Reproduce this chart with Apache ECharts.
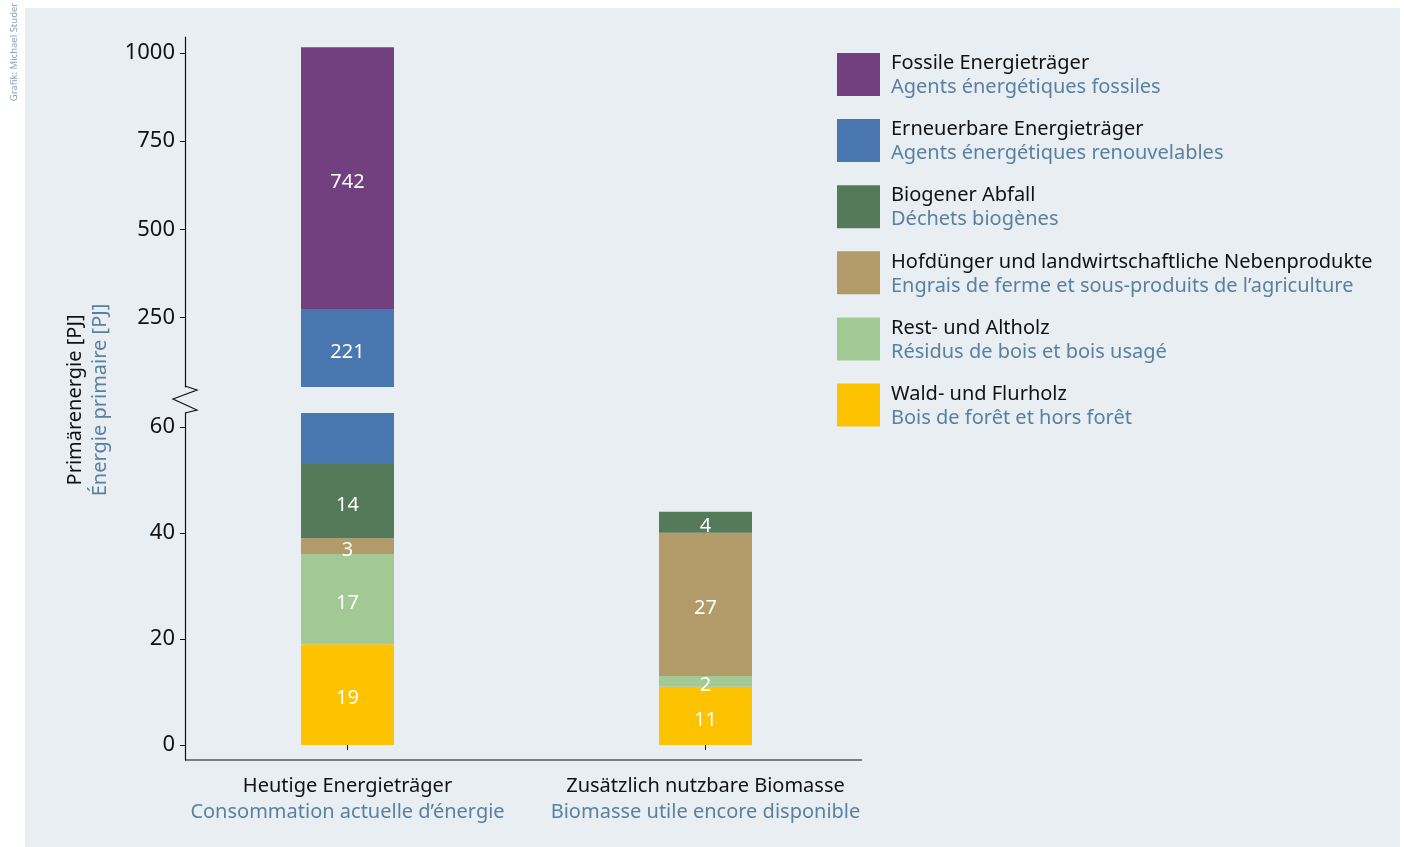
<!DOCTYPE html>
<html>
<head>
<meta charset="utf-8">
<script src="https://cdn.jsdelivr.net/npm/echarts@6/dist/echarts.min.js"></script>
<style>
  html, body { margin: 0; padding: 0; background: #fff; }
  #chart { width: 1404px; height: 847px; }
</style>
</head>
<body>
<div id="chart"></div>
<script>
// categories (German / French)
const categories = ['Heutige Energieträger', 'Zusätzlich nutzbare Biomasse'];
const categoriesFr = ['Consommation actuelle d’énergie', 'Biomasse utile encore disponible'];

// legend order, top to bottom
const seriesNames = [
  'Fossile Energieträger',
  'Erneuerbare Energieträger',
  'Biogener Abfall',
  'Hofdünger und landwirtschaftliche Nebenprodukte',
  'Rest- und Altholz',
  'Wald- und Flurholz'
];
const seriesNamesFr = [
  'Agents énergétiques fossiles',
  'Agents énergétiques renouvelables',
  'Déchets biogènes',
  'Engrais de ferme et sous-produits de l’agriculture',
  'Résidus de bois et bois usagé',
  'Bois de forêt et hors forêt'
];

// values in PJ
const waldHolz = [19, 11];
const restHolz = [17, 2];
const hofduenger = [3, 27];
const biogenAbfall = [14, 4];
const erneuerbar = [221, null];
const fossil = [742, null];

const lowerTicks = [0, 20, 40, 60];
const upperTicks = [250, 500, 750, 1000];

const colors = {
  fossil: '#723f7f',
  erneuerbar: '#4a77b0',
  biogen: '#557a5a',
  hof: '#b39b69',
  rest: '#a3c994',
  wald: '#fdc300'
};

const FONT = '"Noto Sans", sans-serif';
const BLUEGREY = '#5a80a0';
const INK = '#111';
const FS = 20;

const frByName = {};
seriesNames.forEach((n, i) => { frByName[n] = seriesNamesFr[i]; });

// sum of everything below the blue block on the left bar: where the upper panel starts
const lowerSum = waldHolz[0] + restHolz[0] + hofduenger[0] + biogenAbfall[0];

const chart = echarts.init(document.getElementById('chart'));

const barLabel = {
  show: true,
  position: 'inside',
  offset: [0, 4],
  color: '#fff',
  fontSize: FS,
  fontFamily: FONT,
  formatter: (p) => (p.value == null ? '' : String(p.value))
};

function lowerBar(name, data, color, label = true) {
  return {
    name,
    type: 'bar',
    xAxisIndex: 0,
    yAxisIndex: 0,
    stack: 'lower',
    barWidth: 93,
    clip: true,
    data,
    itemStyle: { color },
    label: label ? barLabel : { show: false }
  };
}

function upperBar(name, data, color) {
  return {
    name,
    type: 'bar',
    xAxisIndex: 1,
    yAxisIndex: 1,
    stack: 'upper',
    barWidth: 93,
    clip: true,
    data,
    itemStyle: { color },
    label: barLabel
  };
}

const valueAxisBase = {
  type: 'value',
  position: 'left',
  offset: -16.5,
  splitLine: { show: false },
  axisLine: { show: true, lineStyle: { color: INK, width: 1.2 } },
  axisTick: { show: true, length: 5, lineStyle: { color: INK } },
  axisLabel: { color: INK, fontSize: 22, fontFamily: FONT, margin: 10, formatter: (v) => String(v) }
};

const option = {
  backgroundColor: '#fff',
  animation: false,
  textStyle: { fontFamily: FONT },
  grid: [
    { left: 168.5, right: 519.5, top: 413, bottom: 87 },
    { left: 168.5, right: 519.5, top: 37, bottom: 460 }
  ],
  xAxis: [
    {
      type: 'category',
      gridIndex: 0,
      data: categories,
      axisLine: { show: false },
      axisTick: { show: true, alignWithLabel: true, length: 5, lineStyle: { color: INK } },
      axisLabel: {
        interval: 0,
        margin: 13,
        formatter: (v, i) => `{de|${v}}\n{fr|${categoriesFr[i]}}`,
        rich: {
          de: { fontSize: FS, color: INK, lineHeight: 26, fontFamily: FONT },
          fr: { fontSize: FS, color: BLUEGREY, lineHeight: 26, fontFamily: FONT }
        }
      }
    },
    { type: 'category', gridIndex: 1, data: categories, show: false }
  ],
  yAxis: [
    {
      ...valueAxisBase,
      gridIndex: 0,
      min: -2.83,
      max: 62.6,
      axisTick: { ...valueAxisBase.axisTick, customValues: lowerTicks },
      axisLabel: { ...valueAxisBase.axisLabel, customValues: lowerTicks }
    },
    {
      ...valueAxisBase,
      gridIndex: 1,
      min: lowerSum,
      max: 1045,
      axisTick: { ...valueAxisBase.axisTick, customValues: upperTicks },
      axisLabel: { ...valueAxisBase.axisLabel, customValues: upperTicks }
    }
  ],
  legend: {
    orient: 'vertical',
    left: 837,
    top: 53,
    padding: 0,
    itemWidth: 43,
    itemHeight: 43,
    itemGap: 21.6,
    icon: 'rect',
    selectedMode: false,
    data: seriesNames,
    formatter: (name) => `{de|${name}}\n{fr|${frByName[name]}}`,
    textStyle: {
      padding: [2, 0, 0, 6],
      rich: {
        de: { fontSize: FS, color: INK, lineHeight: 24, fontFamily: FONT },
        fr: { fontSize: FS, color: BLUEGREY, lineHeight: 24, fontFamily: FONT }
      }
    }
  },
  series: [
    lowerBar(seriesNames[5], waldHolz, colors.wald),
    lowerBar(seriesNames[4], restHolz, colors.rest),
    lowerBar(seriesNames[3], hofduenger, colors.hof),
    lowerBar(seriesNames[2], biogenAbfall, colors.biogen),
    lowerBar(seriesNames[1], erneuerbar, colors.erneuerbar, false),
    {
      name: '_base',
      type: 'bar',
      xAxisIndex: 1,
      yAxisIndex: 1,
      stack: 'upper',
      barWidth: 93,
      silent: true,
      data: [lowerSum, null],
      itemStyle: { color: 'transparent' }
    },
    upperBar(seriesNames[1], erneuerbar, colors.erneuerbar),
    upperBar(seriesNames[0], fossil, colors.fossil)
  ],
  graphic: [
    {
      type: 'rect',
      z: -100,
      shape: { x: 25, y: 8, width: 1375, height: 839 },
      style: { fill: '#e9eef3' }
    },
    {
      // axis break
      type: 'polyline',
      z: 10,
      shape: { points: [[185, 386], [197, 390], [173, 399], [197, 410], [185, 413]] },
      style: { stroke: INK, lineWidth: 1.2, fill: null }
    },
    {
      type: 'line',
      z: 10,
      shape: { x1: 185, y1: 760, x2: 862, y2: 760 },
      style: { stroke: INK, lineWidth: 1.2 }
    },
    {
      type: 'text',
      x: 75, y: 400,
      rotation: Math.PI / 2,
      style: { text: 'Primärenergie [PJ]', fill: INK, font: FS + 'px ' + FONT, align: 'center', verticalAlign: 'middle' }
    },
    {
      type: 'text',
      x: 100, y: 400,
      rotation: Math.PI / 2,
      style: { text: 'Énergie primaire [PJ]', fill: BLUEGREY, font: FS + 'px ' + FONT, align: 'center', verticalAlign: 'middle' }
    },
    {
      type: 'text',
      x: 14, y: 52,
      rotation: Math.PI / 2,
      style: { text: 'Grafik: Michael Studer', fill: '#8ea3b8', font: '9.5px ' + FONT, align: 'center', verticalAlign: 'middle' }
    }
  ]
};

chart.setOption(option);
</script>
</body>
</html>
